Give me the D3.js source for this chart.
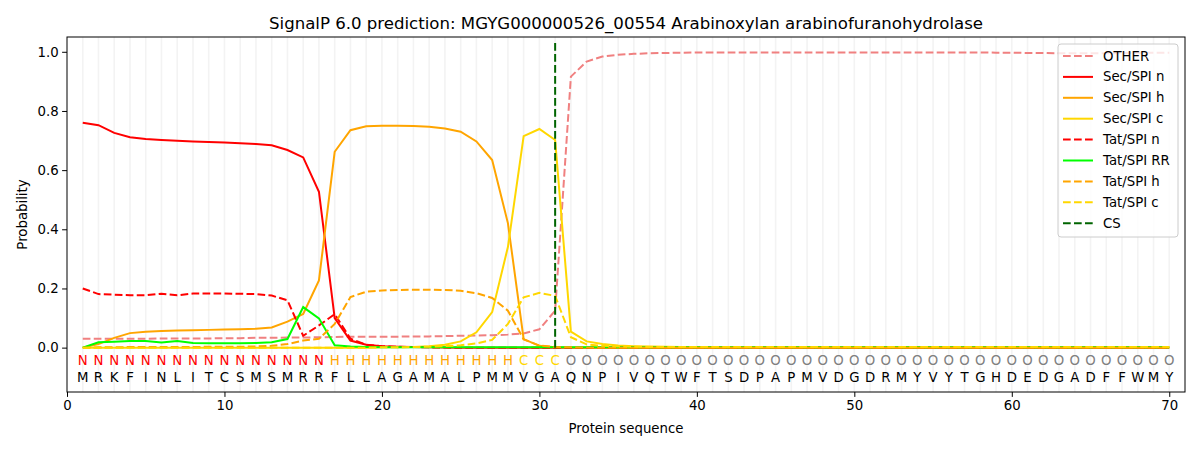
<!DOCTYPE html>
<html>
<head>
<meta charset="utf-8">
<title>SignalP 6.0 prediction</title>
<script src="https://d3js.org/d3.v7.min.js"></script>
<style>
  body { margin: 0; background: #fff; }
  svg text { font-family: "DejaVu Sans", sans-serif; }
</style>
</head>
<body>
<div id="chart"></div>
<script>
// sequence and region labels
const sequence = "MRKFINLITCSMSMRRFLLAGAMALPMMVGAQNPIVQTWFTSDPAPMVDGDRMYVYTGHDEDGADFFWMY".split("");
const regions = "NNNNNNNNNNNNNNNNHHHHHHHHHHHHCCCOOOOOOOOOOOOOOOOOOOOOOOOOOOOOOOOOOOOOOO".split("");
const cleavageSite = 31;

// probabilities per position (1..70)
const other = [0.030,0.030,0.030,0.030,0.030,0.031,0.031,0.031,0.031,0.032,
  0.032,0.033,0.033,0.034,0.034,0.035,0.036,0.037,0.037,0.037,
  0.037,0.038,0.038,0.039,0.040,0.041,0.042,0.044,0.048,0.062,
  0.125,0.916,0.967,0.984,0.990,0.993,0.995,0.996,0.997,0.998,
  0.998,0.998,0.998,0.998,0.998,0.998,0.998,0.998,0.998,0.998,
  0.998,0.998,0.998,0.998,0.998,0.998,0.998,0.998,0.997,0.997,
  0.996,0.996,0.995,0.995,0.995,0.995,0.996,0.996,0.997,0.997];
const secN = [0.760,0.752,0.726,0.711,0.705,0.702,0.699,0.697,0.695,0.693,
  0.691,0.688,0.684,0.668,0.643,0.527,0.100,0.024,0.010,0.005,
  0.003,0.002,0.001,0,0,0,0,0,0,0,
  0,0,0,0,0,0,0,0,0,0, 0,0,0,0,0,0,0,0,0,0,
  0,0,0,0,0,0,0,0,0,0, 0,0,0,0,0,0,0,0,0,0];
const secH = [0.000,0.012,0.033,0.049,0.054,0.056,0.058,0.059,0.060,0.061,
  0.062,0.064,0.068,0.088,0.114,0.227,0.662,0.735,0.748,0.750,
  0.750,0.749,0.747,0.741,0.730,0.697,0.634,0.421,0.029,0.006,
  0.001,0,0,0,0,0,0,0,0,0, 0,0,0,0,0,0,0,0,0,0,
  0,0,0,0,0,0,0,0,0,0, 0,0,0,0,0,0,0,0,0,0];
const secC = [0,0,0,0,0,0,0,0,0,0, 0,0,0,0,0,0,0,0,0,0.001,
  0.001,0.002,0.005,0.010,0.021,0.052,0.120,0.340,0.715,0.739,
  0.702,0.054,0.021,0.012,0.007,0.005,0.004,0.003,0.002,0.002,
  0.002,0.002,0.002,0.002,0.002,0.002,0.002,0.002,0.002,0.002,
  0.002,0.002,0.002,0.002,0.002,0.002,0.002,0.002,0.002,0.002,
  0.002,0.002,0.002,0.002,0.002,0.002,0.002,0.002,0.002,0.002];
const tatN = [0.200,0.181,0.179,0.177,0.177,0.182,0.177,0.183,0.183,0.183,
  0.182,0.181,0.176,0.160,0.040,0.075,0.113,0.030,0.010,0.005,
  0.003,0.002,0.001,0,0,0,0,0,0,0,
  0,0,0,0,0,0,0,0,0,0, 0,0,0,0,0,0,0,0,0,0,
  0,0,0,0,0,0,0,0,0,0, 0,0,0,0,0,0,0,0,0,0];
const tatRR = [0.000,0.018,0.020,0.022,0.022,0.017,0.022,0.016,0.015,0.015,
  0.015,0.016,0.018,0.029,0.137,0.099,0.008,0.004,0.002,0.001,
  0.001,0.001,0.001,0.001,0.001,0.001,0.001,0.001,0.001,0.001,
  0.001,0.001,0.001,0.001,0.001,0.001,0.001,0.001,0.001,0.001,
  0.001,0.001,0.001,0.001,0.001,0.001,0.001,0.001,0.001,0.001,
  0.001,0.001,0.001,0.001,0.001,0.001,0.001,0.001,0.001,0.001,
  0.001,0.001,0.001,0.001,0.001,0.001,0.001,0.001,0.001,0.001];
const tatH = [0.000,0.001,0.001,0.002,0.002,0.002,0.002,0.002,0.003,0.003,
  0.003,0.004,0.006,0.012,0.024,0.030,0.080,0.171,0.189,0.193,
  0.195,0.196,0.196,0.195,0.192,0.184,0.168,0.125,0.028,0.007,
  0.002,0.001,0,0,0,0,0,0,0,0, 0,0,0,0,0,0,0,0,0,0,
  0,0,0,0,0,0,0,0,0,0, 0,0,0,0,0,0,0,0,0,0];
const tatC = [0,0,0,0,0,0,0,0,0,0, 0,0,0,0,0,0,0,0,0,0.001,
  0.001,0.002,0.003,0.005,0.008,0.014,0.026,0.080,0.170,0.185,
  0.175,0.035,0.011,0.006,0.004,0.003,0.002,0.002,0.002,0.002,
  0.002,0.002,0.002,0.002,0.002,0.002,0.002,0.002,0.002,0.002,
  0.002,0.002,0.002,0.002,0.002,0.002,0.002,0.002,0.002,0.002,
  0.002,0.002,0.002,0.002,0.002,0.002,0.002,0.002,0.002,0.002];

const series = [
  {name: "OTHER", values: other, color: "#f08080", dash: true},
  {name: "Sec/SPI n", values: secN, color: "red", dash: false},
  {name: "Sec/SPI h", values: secH, color: "orange", dash: false},
  {name: "Sec/SPI c", values: secC, color: "gold", dash: false},
  {name: "Tat/SPI n", values: tatN, color: "red", dash: true},
  {name: "Tat/SPI RR", values: tatRR, color: "lime", dash: false},
  {name: "Tat/SPI h", values: tatH, color: "orange", dash: true},
  {name: "Tat/SPI c", values: tatC, color: "gold", dash: true}
];
const regionColor = {N: "red", H: "orange", C: "gold", O: "grey"};

const W = 1200, H = 450;
const margin = {top: 37, right: 15, bottom: 58, left: 67};
const dashArr = "7.7,3.3";

const svg = d3.select("#chart").append("svg")
  .attr("width", W).attr("height", H);

const x = d3.scaleLinear().domain([0, 71]).range([margin.left, W - margin.right]);
const y = d3.scaleLinear().domain([-0.15, 1.05]).range([H - margin.bottom, margin.top]);

// faint vertical grid at each residue
svg.append("g").selectAll("line")
  .data(d3.range(1, sequence.length + 1))
  .join("line")
    .attr("x1", d => x(d)).attr("x2", d => x(d))
    .attr("y1", y(1.05)).attr("y2", y(-0.15))
    .attr("stroke", "#f3f3f3")
    .attr("stroke-width", 1.6);

// probability lines
const line = d3.line()
  .x((d, i) => x(i + 1))
  .y(d => y(d));

svg.append("g").selectAll("path")
  .data(series)
  .join("path")
    .attr("d", d => line(d.values))
    .attr("fill", "none")
    .attr("stroke", d => d.color)
    .attr("stroke-width", 2)
    .attr("stroke-dasharray", d => d.dash ? dashArr : null);

// cleavage site
svg.append("line")
  .attr("x1", x(cleavageSite)).attr("x2", x(cleavageSite))
  .attr("y1", y(0)).attr("y2", y(1.04))
  .attr("stroke", "darkgreen")
  .attr("stroke-width", 2)
  .attr("stroke-dasharray", dashArr);

// region letters and sequence letters
svg.append("g").selectAll("text")
  .data(regions)
  .join("text")
    .attr("x", (d, i) => x(i + 1))
    .attr("y", y(-0.045))
    .attr("text-anchor", "middle")
    .attr("dominant-baseline", "central")
    .style("font-size", "13.3px")
    .attr("fill", d => regionColor[d])
    .text(d => d);

svg.append("g").selectAll("text")
  .data(sequence)
  .join("text")
    .attr("x", (d, i) => x(i + 1))
    .attr("y", y(-0.1))
    .attr("text-anchor", "middle")
    .attr("dominant-baseline", "central")
    .style("font-size", "13.3px")
    .attr("fill", "black")
    .text(d => d);

// axes
const xAxis = svg.append("g")
  .attr("transform", `translate(0,${H - margin.bottom})`)
  .call(d3.axisBottom(x).tickValues(d3.range(0, 71, 10)).tickSize(4.9).tickPadding(3.5));
const yAxis = svg.append("g")
  .attr("transform", `translate(${margin.left},0)`)
  .call(d3.axisLeft(y).tickValues(d3.range(0, 1.01, 0.2)).tickFormat(d3.format(".1f")).tickSize(4.9).tickPadding(3.5));
[xAxis, yAxis].forEach(a => {
  a.selectAll("text").style("font-size", "13.3px").style("font-family", "DejaVu Sans, sans-serif").attr("fill", "black");
  a.selectAll("line").attr("stroke", "black").attr("stroke-width", 1);
  a.select(".domain").remove();
});

// frame
svg.append("rect")
  .attr("x", x(0)).attr("y", y(1.05))
  .attr("width", x(71) - x(0)).attr("height", y(-0.15) - y(1.05))
  .attr("fill", "none").attr("stroke", "black").attr("stroke-width", 1);

// titles
svg.append("text")
  .attr("x", (x(0) + x(71)) / 2).attr("y", 23)
  .attr("text-anchor", "middle").attr("dominant-baseline", "central")
  .style("font-size", "16px")
  .attr("textLength", 714).attr("lengthAdjust", "spacingAndGlyphs")
  .text("SignalP 6.0 prediction: MGYG000000526_00554 Arabinoxylan arabinofuranohydrolase");

svg.append("text")
  .attr("x", (x(0) + x(71)) / 2).attr("y", 428)
  .attr("text-anchor", "middle").attr("dominant-baseline", "central")
  .style("font-size", "13.3px")
  .text("Protein sequence");

svg.append("text")
  .attr("transform", `translate(22,${(y(1.05) + y(-0.15)) / 2}) rotate(-90)`)
  .attr("text-anchor", "middle").attr("dominant-baseline", "central")
  .style("font-size", "13.3px")
  .text("Probability");

// legend
const legendItems = series.concat([{name: "CS", color: "darkgreen", dash: true}]);
const legend = svg.append("g").attr("transform", "translate(1058,44)");
legend.append("rect")
  .attr("width", 120).attr("height", 193)
  .attr("rx", 3)
  .attr("fill", "white").attr("fill-opacity", 0.8)
  .attr("stroke", "#cccccc").attr("stroke-width", 1);
const entry = legend.selectAll("g.entry")
  .data(legendItems)
  .join("g")
    .attr("class", "entry")
    .attr("transform", (d, i) => `translate(0,${12 + i * 20.9})`);
entry.append("line")
  .attr("x1", 5).attr("x2", 35)
  .attr("stroke", d => d.color)
  .attr("stroke-width", 2)
  .attr("stroke-dasharray", d => d.dash ? dashArr : null);
entry.append("text")
  .attr("x", 45)
  .attr("dominant-baseline", "central")
  .style("font-size", "13.3px")
  .text(d => d.name);
</script>
</body>
</html>
